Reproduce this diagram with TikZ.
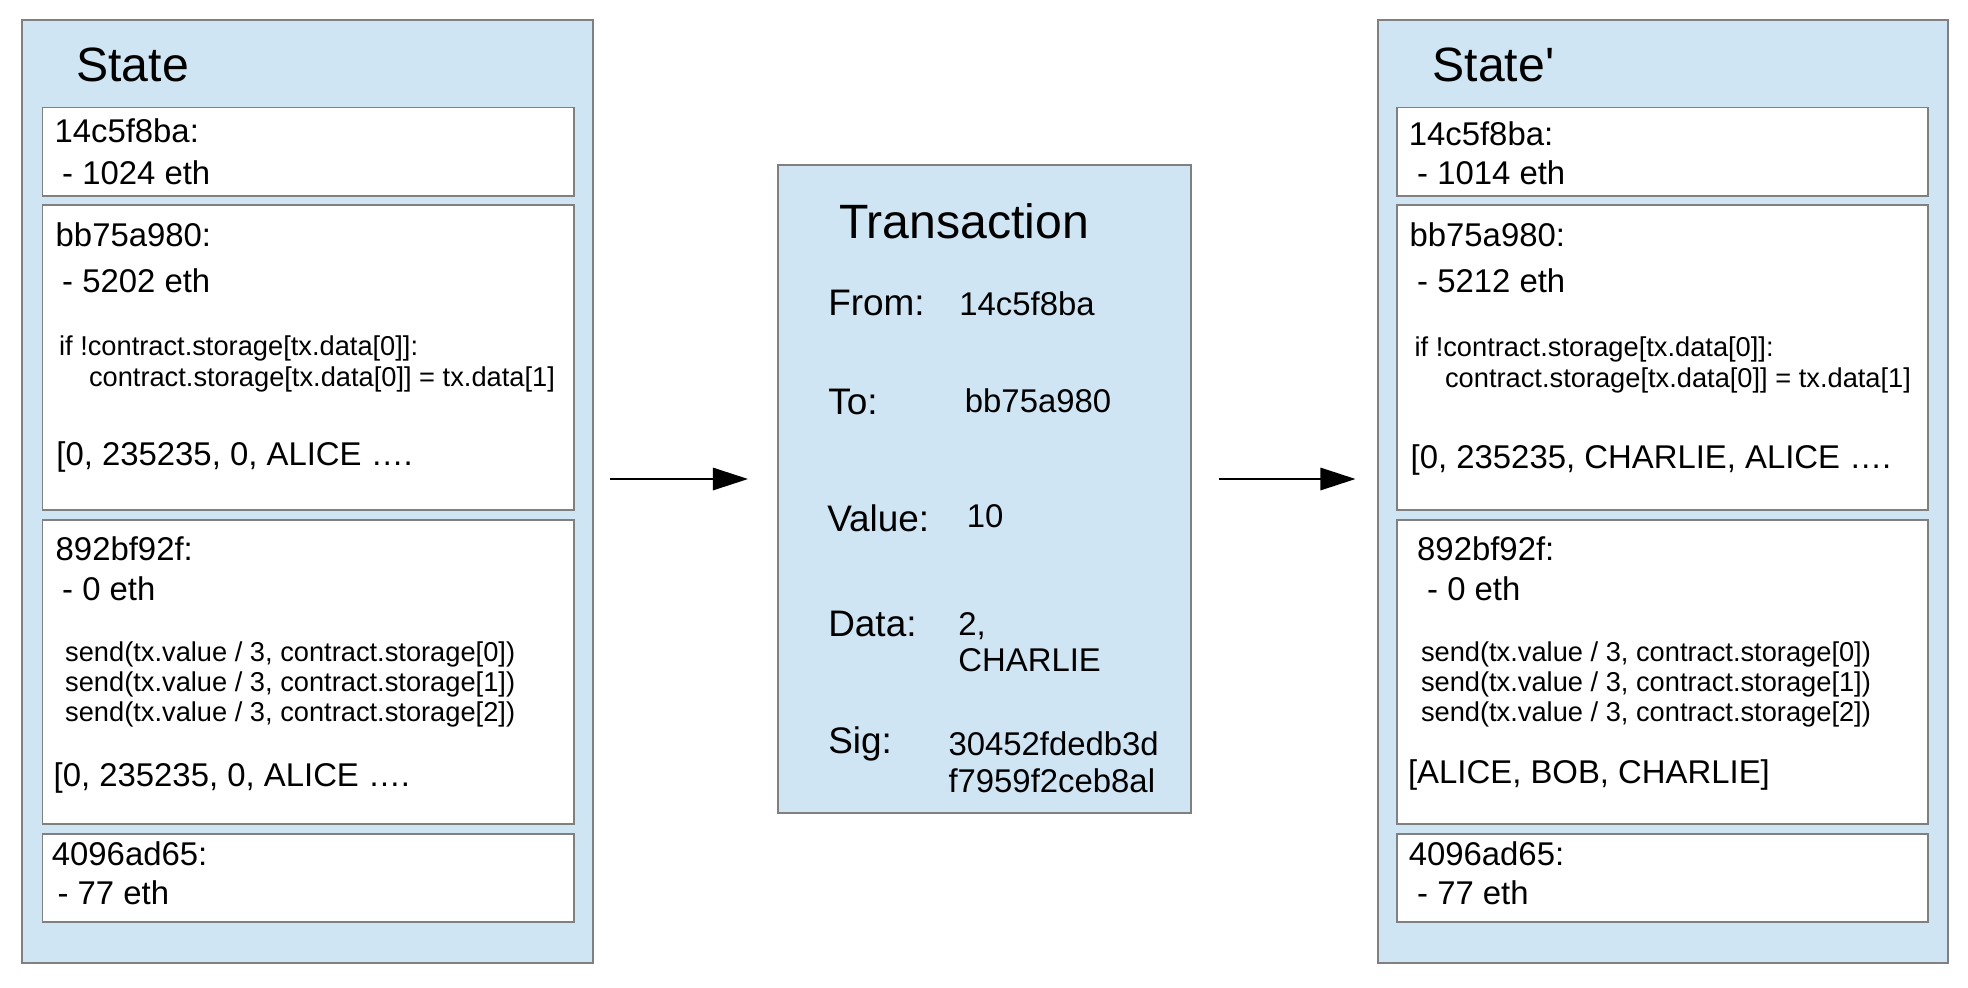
\documentclass[tikz,border=0pt]{standalone}
\usepackage{fontspec}
\setmainfont{Liberation Sans}
\usetikzlibrary{positioning,arrows.meta}
\definecolor{paleblue}{RGB}{207,229,243}
\definecolor{edgegray}{RGB}{128,128,128}

\begin{document}
\begin{tikzpicture}[x=0.01cm, y=-0.01cm,
    panel/.style={draw=edgegray, fill=paleblue, line width=0.5pt, anchor=north west, inner sep=0pt},
    acct/.style={draw=edgegray, fill=white, line width=0.5pt, anchor=north west, inner sep=0pt, minimum width=5.31cm},
    title/.style={anchor=base west, inner sep=0pt, font=\fontsize{13.7}{16}\selectfont},
    txt/.style={anchor=base west, inner sep=0pt, font=\fontsize{9.35}{11}\selectfont},
    lbl/.style={anchor=base west, inner sep=0pt, font=\fontsize{10.5}{12}\selectfont},
    code/.style={anchor=base west, inner sep=0pt, font=\fontsize{7.75}{9}\selectfont},
    flow/.style={-{Triangle[length=10pt, width=6.4pt]}, line width=0.45pt}]
    \useasboundingbox (0,0) rectangle (1968,987);

    % Panels
    \node[panel, minimum width=5.702cm, minimum height=9.425cm] (state) at (21.3, 19) {};
    \node[panel, minimum width=4.129cm, minimum height=6.476cm] (tx) at (776.9, 164.4) {};
    \node[panel, minimum width=5.702cm, minimum height=9.425cm] (state2) at (1376.8, 19) {};

    % State
    \node[title] (st) at (75.6, 81.7) {State};
    \node[acct, minimum height=0.883cm] (a1) at (41.6, 106.7) {};
    \node[acct, minimum height=3.05cm] (a2) at (41.6, 204.3) {};
    \node[acct, minimum height=3.04cm] (a3) at (41.6, 519.3) {};
    \node[acct, minimum height=0.877cm] (a4) at (41.6, 833.3) {};

    \node[txt] (a1id) at (53.8, 142.7) {14c5f8ba:};
    \node[txt] (a1bal) at (61.5, 184.3) {- 1024 eth};
    \node[txt] (a2id) at (55, 246.7) {bb75a980:};
    \node[txt] (a2bal) at (61.5, 292.7) {- 5202 eth};
    \node[code] (a2c1) at (58.4, 355) {if !contract.storage[tx.data[0]]:};
    \node[code] (a2c2) at (88.3, 386.7) {contract.storage[tx.data[0]] = tx.data[1]};
    \node[txt] (a2mem) at (55.7, 465.7) {[0, 235235, 0, ALICE ….};
    \node[txt] (a3id) at (55, 560.7) {892bf92f:};
    \node[txt] (a3bal) at (61.5, 600) {- 0 eth};
    \node[code] (a3c1) at (64.5, 661) {send(tx.value / 3, contract.storage[0])};
    \node[code] (a3c2) at (64.5, 691) {send(tx.value / 3, contract.storage[1])};
    \node[code] (a3c3) at (64.5, 721) {send(tx.value / 3, contract.storage[2])};
    \node[txt] (a3mem) at (53, 786) {[0, 235235, 0, ALICE ….};
    \node[txt] (a4id) at (51.2, 865) {4096ad65:};
    \node[txt] (a4bal) at (56.9, 904) {- 77 eth};

    % Transaction
    \node[title] (tt) at (838.5, 238) {Transaction};
    \node[lbl] (from) at (827.6, 315.9) {From:};
    \node[txt] (fromv) at (958.7, 315) {14c5f8ba};
    \node[lbl] (to) at (827.6, 414.2) {To:};
    \node[txt] (tov) at (964.2, 412.4) {bb75a980};
    \node[lbl] (val) at (826.6, 531.5) {Value:};
    \node[txt] (valv) at (966.2, 527.2) {10};
    \node[lbl] (data) at (827.6, 636.3) {Data:};
    \node[txt] (datav1) at (957.7, 635) {2,};
    \node[txt] (datav2) at (957.7, 671.8) {CHARLIE};
    \node[lbl] (sig) at (827.6, 753.1) {Sig:};
    \node[txt] (sigv1) at (947.8, 755.3) {30452fdedb3d};
    \node[txt] (sigv2) at (947.8, 792) {f7959f2ceb8al};

    % State'
    \node[title] (st2) at (1431.8, 81.7) {State\textquotesingle};
    \node[acct, minimum height=0.883cm] (b1) at (1396, 106.7) {};
    \node[acct, minimum height=3.05cm] (b2) at (1396, 204.3) {};
    \node[acct, minimum height=3.04cm] (b3) at (1396, 519.3) {};
    \node[acct, minimum height=0.877cm] (b4) at (1396, 833.3) {};

    \node[txt] (b1id) at (1408.1, 145) {14c5f8ba:};
    \node[txt] (b1bal) at (1416.5, 184.3) {- 1014 eth};
    \node[txt] (b2id) at (1408.9, 246.7) {bb75a980:};
    \node[txt] (b2bal) at (1416.5, 292.7) {- 5212 eth};
    \node[code] (b2c1) at (1413.9, 356) {if !contract.storage[tx.data[0]]:};
    \node[code] (b2c2) at (1444.4, 387.3) {contract.storage[tx.data[0]] = tx.data[1]};
    \node[txt] (b2mem) at (1410, 468.3) {[0, 235235, CHARLIE, ALICE ….};
    \node[txt] (b3id) at (1416.5, 560.7) {892bf92f:};
    \node[txt] (b3bal) at (1426.5, 600) {- 0 eth};
    \node[code] (b3c1) at (1420.3, 661) {send(tx.value / 3, contract.storage[0])};
    \node[code] (b3c2) at (1420.3, 691) {send(tx.value / 3, contract.storage[1])};
    \node[code] (b3c3) at (1420.3, 721) {send(tx.value / 3, contract.storage[2])};
    \node[txt] (b3mem) at (1407.4, 783.3) {[ALICE, BOB, CHARLIE]};
    \node[txt] (b4id) at (1408.1, 865) {4096ad65:};
    \node[txt] (b4bal) at (1416.5, 904) {- 77 eth};

    % Arrows
    \coordinate (in1) at (610, 479);
    \coordinate (in2) at (748, 479);
    \coordinate (out1) at (1218.5, 479);
    \coordinate (out2) at (1355.5, 479);
    \draw[flow] (in1) -- (in2);
    \draw[flow] (out1) -- (out2);
\end{tikzpicture}
\end{document}
